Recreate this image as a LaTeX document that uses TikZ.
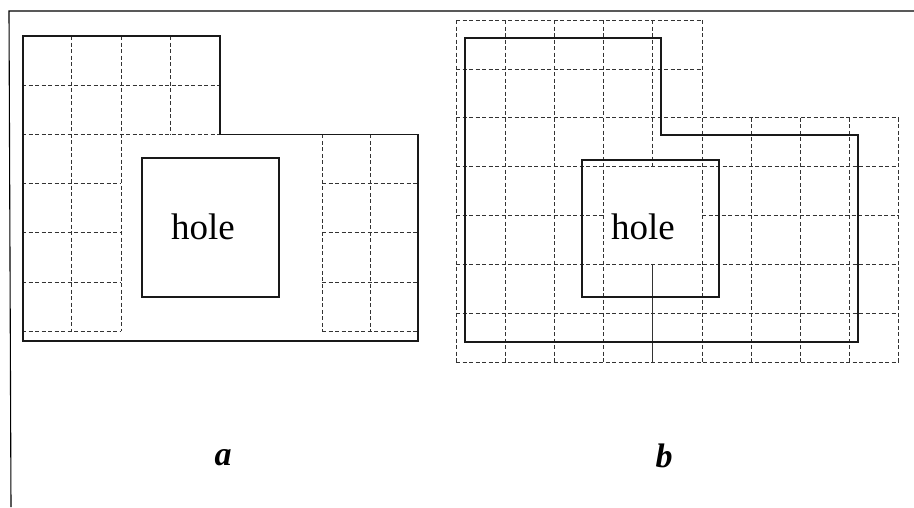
\documentclass[tikz,border=0pt]{standalone}
\usepackage{fontspec}
\setmainfont{Liberation Serif}
\begin{document}
\begin{tikzpicture}[x=1pt,y=-1pt,
  gridln/.style={draw=black!80,line width=0.7pt,dash pattern=on 4pt off 2.5pt},
  outline/.style={draw=black!90,line width=1.2pt,line join=miter},
  thinsolid/.style={draw=black!80,line width=0.8pt},
  holetext/.style={font=\fontsize{37}{42}\selectfont,inner sep=0pt},
  paneltext/.style={font=\fontsize{34}{40}\selectfont\bfseries\itshape,inner sep=0pt}]
\useasboundingbox (0,0) rectangle (914,507);
% frame
\draw[line width=1.1pt] (914,11) -- (9,11) -- (11,507);

% ---------- panel a ----------
\foreach \x in {22,71.5,121} \draw[gridln] (\x,36) -- (\x,331.2);
\foreach \x in {170.5} \draw[gridln] (\x,36) -- (\x,134.4);
\foreach \y in {85.2,134.4} \draw[gridln] (22,\y) -- (220,\y);
\foreach \y in {183.6,232.8,282,331.2} \draw[gridln] (22,\y) -- (121,\y);
\foreach \x in {322,370} \draw[gridln] (\x,134.4) -- (\x,331.2);
\foreach \y in {183.6,232.8,282,331.2} \draw[gridln] (322,\y) -- (418,\y);
\draw[outline] (23,36) -- (220,36) -- (220,134.4) -- (418,134.4) -- (418,341) -- (23,341) -- cycle;
\draw[outline] (142,158) rectangle (279,297);
\node[holetext] (holeA) at (203,227) {hole};
\node[paneltext] (labA) at (223,458) {a};

% ---------- panel b ----------
\foreach \y in {20,68.9} \draw[gridln] (456,\y) -- (702,\y);
\foreach \y in {117.8,166.7,264.5,313.4,362.3} \draw[gridln] (456,\y) -- (898.8,\y);
\draw[gridln] (456,215.6) -- (603.6,215.6);
\draw[gridln] (702,215.6) -- (898.8,215.6);
\foreach \x in {456,505.2,554.4,603.6,702} \draw[gridln] (\x,20) -- (\x,362.3);
\draw[gridln] (652.8,20) -- (652.8,166.7);
\draw[thinsolid] (652.8,264.5) -- (652.8,362.3);
\foreach \x in {751.2,800.4,849.6,898.8} \draw[gridln] (\x,117.8) -- (\x,362.3);
\draw[outline] (465,38) -- (661,38) -- (661,135) -- (858,135) -- (858,342) -- (465,342) -- cycle;
\draw[outline] (582,160) rectangle (719,297);
\node[holetext] (holeB) at (643,227) {hole};
\node[paneltext] (labB) at (664,456) {b};
\end{tikzpicture}
\end{document}
